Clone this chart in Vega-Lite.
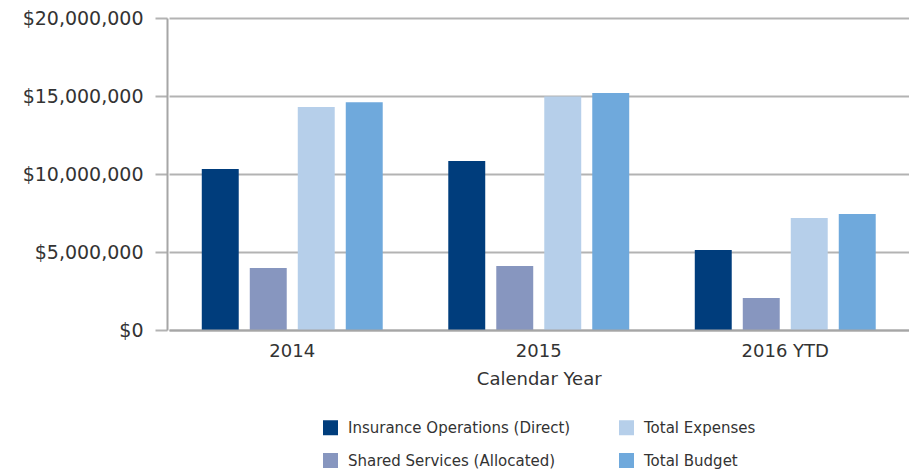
{
  "$schema": "https://vega.github.io/schema/vega-lite/v6.json",
  "width": 751,
  "height": 312,
  "autosize": {"type": "none"},
  "padding": {"left": 167, "top": 18, "right": 0, "bottom": 142},
  "background": "white",
  "data": {
    "values": [
      {"year": "2014", "category": "Insurance Operations (Direct)", "amount": 10320000},
      {"year": "2014", "category": "Shared Services (Allocated)", "amount": 3970000},
      {"year": "2014", "category": "Total Expenses", "amount": 14290000},
      {"year": "2014", "category": "Total Budget", "amount": 14600000},
      {"year": "2015", "category": "Insurance Operations (Direct)", "amount": 10830000},
      {"year": "2015", "category": "Shared Services (Allocated)", "amount": 4100000},
      {"year": "2015", "category": "Total Expenses", "amount": 14960000},
      {"year": "2015", "category": "Total Budget", "amount": 15190000},
      {"year": "2016 YTD", "category": "Insurance Operations (Direct)", "amount": 5130000},
      {"year": "2016 YTD", "category": "Shared Services (Allocated)", "amount": 2050000},
      {"year": "2016 YTD", "category": "Total Expenses", "amount": 7180000},
      {"year": "2016 YTD", "category": "Total Budget", "amount": 7440000}
    ]
  },
  "config": {
    "view": {"stroke": null},
    "font": "DejaVu Sans",
    "axis": {"labelColor": "#333333", "titleColor": "#333333", "labelFont": "DejaVu Sans", "titleFont": "DejaVu Sans"},
    "legend": {"labelColor": "#333333", "labelFont": "DejaVu Sans"}
  },
  "mark": {"type": "bar"},
  "encoding": {
    "x": {
      "field": "year",
      "type": "nominal",
      "sort": ["2014", "2015", "2016 YTD"],
      "scale": {"paddingInner": 0, "paddingOuter": 0, "range": [2, 741.5]},
      "axis": {
        "title": "Calendar Year",
        "labelAngle": 0,
        "labelFontSize": 18,
        "labelFontWeight": "normal",
        "labelPadding": 12,
        "titleFontSize": 18,
        "titleFontWeight": "normal",
        "titlePadding": 10,
        "ticks": false,
        "domainColor": "#a6a6a6",
        "domainWidth": 2,
        "zindex": 1,
        "grid": false
      }
    },
    "xOffset": {
      "field": "category",
      "type": "nominal",
      "sort": ["Insurance Operations (Direct)", "Shared Services (Allocated)", "Total Expenses", "Total Budget"],
      "scale": {"paddingInner": 0.23, "paddingOuter": 0.683}
    },
    "y": {
      "field": "amount",
      "type": "quantitative",
      "scale": {"domain": [0, 20000000], "nice": false},
      "axis": {
        "title": null,
        "values": [0, 5000000, 10000000, 15000000, 20000000],
        "format": "$,.0f",
        "labelFontSize": 19,
        "labelPadding": 12,
        "tickSize": 12,
        "tickColor": "#b3b3b3",
        "tickWidth": 2,
        "gridColor": "#b3b3b3",
        "gridWidth": 2,
        "domainColor": "#a6a6a6",
        "domainWidth": 2,
        "zindex": 0
      }
    },
    "color": {
      "field": "category",
      "type": "nominal",
      "scale": {
        "domain": ["Insurance Operations (Direct)", "Total Expenses", "Shared Services (Allocated)", "Total Budget"],
        "range": ["#003d7c", "#b6cfea", "#8796bf", "#6fa9dc"]
      },
      "legend": {
        "title": null,
        "orient": "none",
        "legendX": 156,
        "legendY": 402,
        "direction": "horizontal",
        "columns": 2,
        "columnPadding": 48,
        "rowPadding": 17,
        "symbolType": "square",
        "symbolSize": 225,
        "symbolStrokeWidth": 0,
        "symbolOpacity": 1,
        "labelFontSize": 15,
        "labelOffset": 10,
        "labelLimit": 400
      }
    }
  }
}
